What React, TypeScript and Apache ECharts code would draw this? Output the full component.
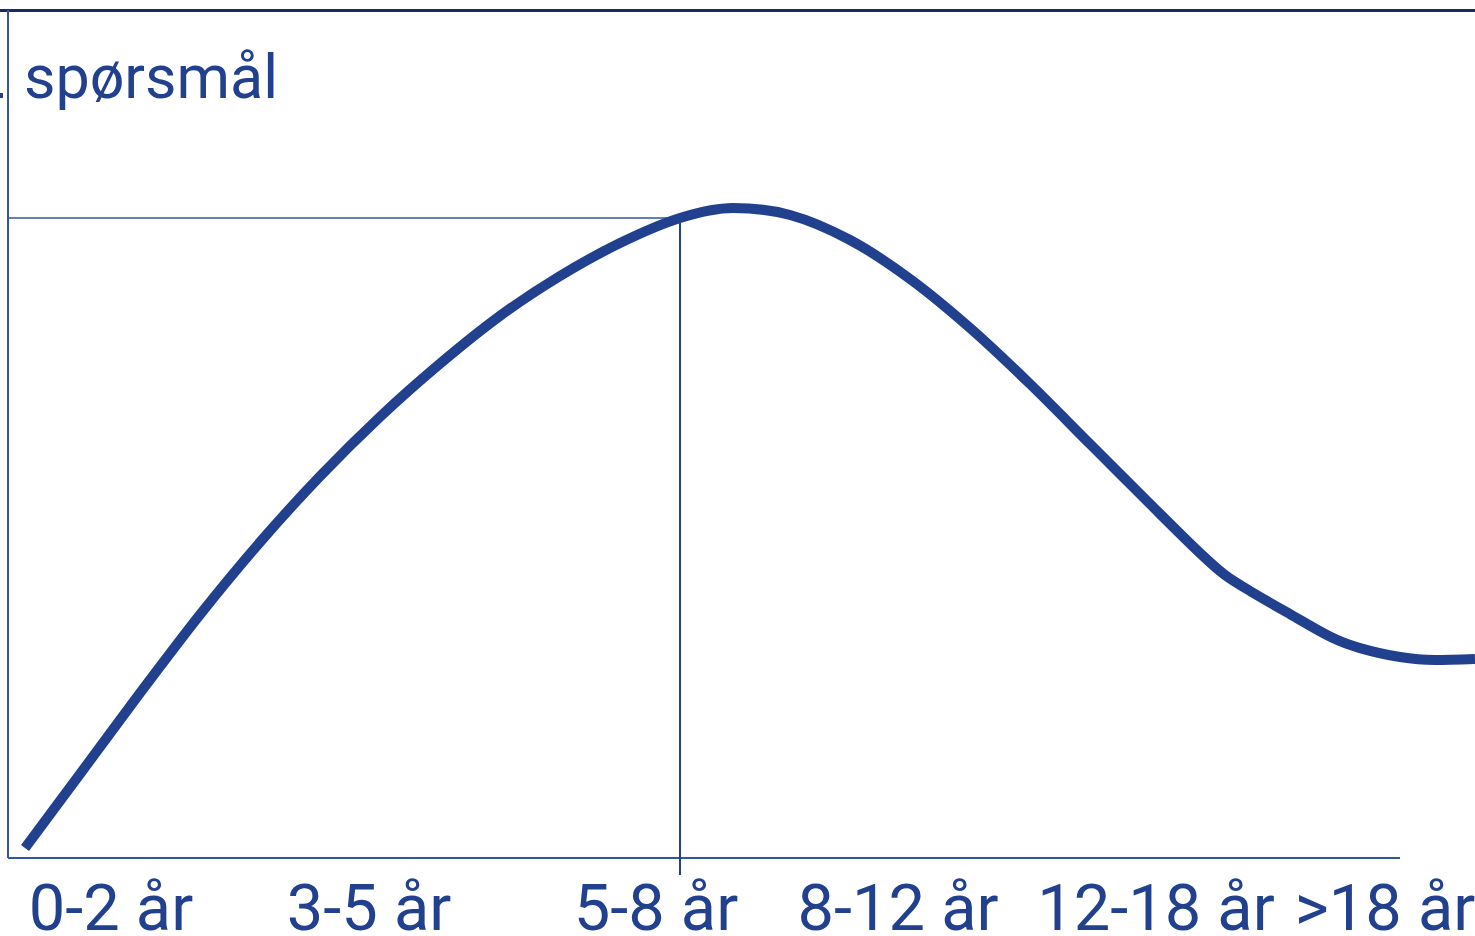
import React, { useEffect, useRef } from "react";
import * as echarts from "echarts";

// Curve (x: 0-100 across the plot, y: 0-100 up the plot)
const curveX = [1.16, 4.91, 9.0, 13.09, 17.18, 21.27, 25.36, 29.45, 33.54, 37.63, 41.72, 45.81, 49.42, 53.31, 57.4, 61.49, 65.58, 69.67, 73.76, 77.85, 81.25, 82.96, 84.66, 87.39, 90.32, 92.16, 94.89, 97.27, 100];
const curveY = [1.18, 9.91, 19.46, 28.71, 37.25, 45.02, 52.03, 58.3, 63.93, 68.63, 72.52, 75.47, 76.65, 75.83, 72.88, 68.28, 62.5, 55.9, 48.82, 41.75, 35.97, 33.37, 31.49, 28.77, 25.94, 24.76, 23.7, 23.35, 23.47];

// Reference point (horizontal + vertical guide lines)
const refX = 45.81;
const refY = 75.47;

// Category labels along the age axis and where they sit on the x scale
const ageLabels = ["0-2 år", "3-5 år", "5-8 år", "8-12 år", "12-18 år", ">18 år"];
const ageLabelX = [7.02, 24.61, 44.17, 60.67, 78.25, 93.87];

const axisEndX = 94.89;
const yMin = -2;
const yMax = 100;
const titleText = "spørsmål";

const BLUE = "#21418f";
const AXIS = "#3355a5";

export default function App() {
  const ref = useRef<HTMLDivElement>(null);
  useEffect(() => {
    document.body.style.margin = "0";
    const chart = echarts.init(ref.current!, null, { renderer: "svg" });
    const labelMap: Record<string, string> = {};
    ageLabelX.forEach((v, i) => (labelMap[String(v)] = ageLabels[i]));
    chart.setOption({
      animation: false,
      backgroundColor: "#ffffff",
      grid: {
        left: 8,
        right: 0,
        top: 10,
        bottom: 61,
        containLabel: false,
        outerBoundsMode: "none",
      },
      xAxis: {
        type: "value",
        min: 0,
        max: 100,
        axisLine: { show: false, onZero: false },
        axisTick: { show: false },
        splitLine: { show: false },
        axisLabel: {
          customValues: ageLabelX,
          formatter: (v: number) => labelMap[String(v)] ?? "",
          color: BLUE,
          fontFamily: "Roboto",
          fontSize: 65,
          lineHeight: 50,
          margin: 8,
          align: "center",
          verticalAlign: "top",
          hideOverlap: false,
        },
      },
      yAxis: {
        type: "value",
        min: yMin,
        max: yMax,
        show: false,
        splitLine: { show: false },
      },
      graphic: [
        {
          type: "line",
          shape: { x1: 0, y1: 10.5, x2: 1475, y2: 10.5 },
          style: { stroke: "#132c63", lineWidth: 3 },
          silent: true,
        },
        {
          type: "rect",
          shape: { x: 0, y: 93, width: 3, height: 5 },
          style: { fill: "#21418f" },
          silent: true,
        },
        {
          type: "text",
          x: 24,
          y: 77,
          style: {
            text: titleText,
            fill: BLUE,
            font: "61px Roboto",
            verticalAlign: "middle",
            align: "left",
          },
          silent: true,
        },
      ],
      series: [
        {
          type: "line",
          data: [[0, 0]],
          symbol: "none",
          lineStyle: { opacity: 0 },
          z: 1,
          silent: true,
          markLine: {
            z: 1,
            silent: true,
            symbol: "none",
            label: { show: false },
            data: [
              [
                { coord: [0, 0], lineStyle: { color: AXIS, width: 2, type: "solid" } },
                { coord: [0, yMax] },
              ],
              [
                { coord: [0, 0], lineStyle: { color: AXIS, width: 2, type: "solid" } },
                { coord: [axisEndX, 0] },
              ],
              [
                { coord: [0, refY], lineStyle: { color: AXIS, width: 1.5, type: "solid" } },
                { coord: [refX, refY] },
              ],
              [
                { coord: [refX, refY], lineStyle: { color: BLUE, width: 2, type: "solid" } },
                { coord: [refX, yMin] },
              ],
            ],
          },
        },
        {
          type: "line",
          data: curveX.map((x, i) => [x, curveY[i]]),
          smooth: 0.3,
          symbol: "none",
          z: 3,
          lineStyle: { color: BLUE, width: 10 },
          clip: false,
        },
      ],
    });
    return () => chart.dispose();
  }, []);
  return (
    <div
      ref={ref}
      style={{ position: "fixed", left: 0, top: 0, width: 1475, height: 936 }}
    />
  );
}
